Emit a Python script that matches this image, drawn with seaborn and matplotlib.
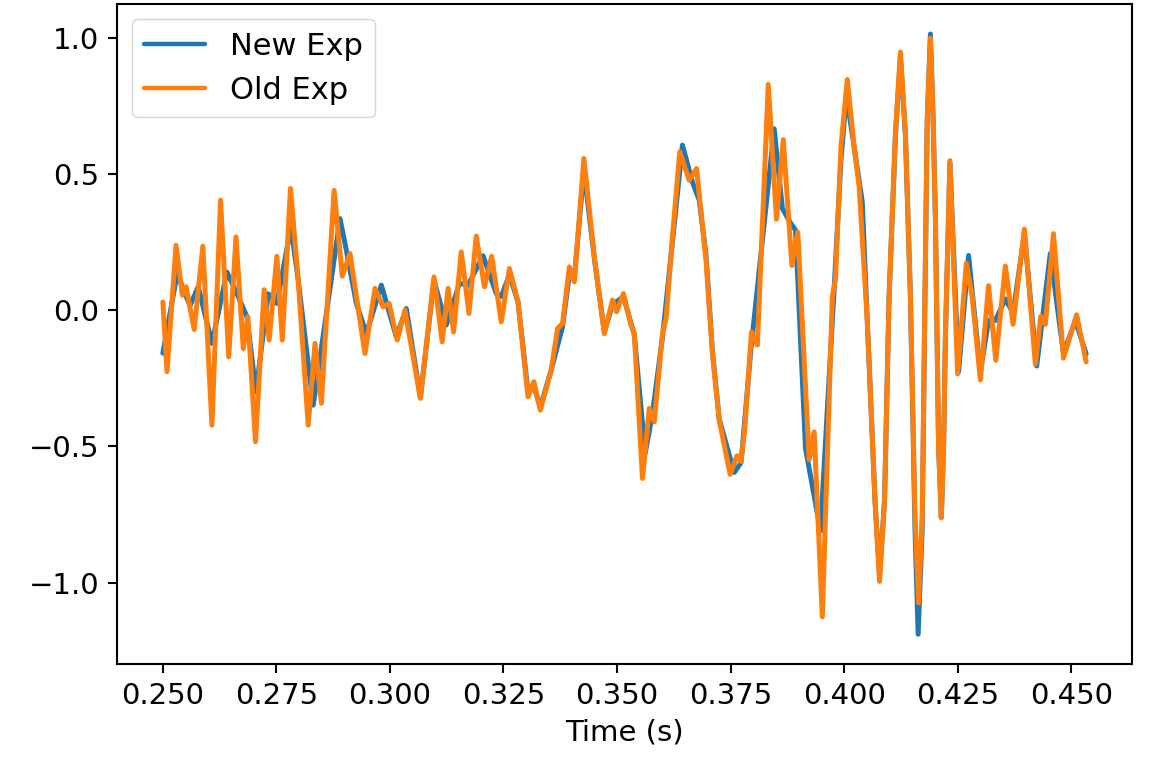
import numpy as np
import pandas as pd
import matplotlib
matplotlib.use("Agg")
import matplotlib.pyplot as plt
import seaborn as sns

# ---- data ----
old_t = [0.2500, 0.2509, 0.2529, 0.2543, 0.2551, 0.2569, 0.2588, 0.2608, 0.2627, 0.2645,
         0.2661, 0.2677, 0.2687, 0.2704, 0.2723, 0.2734, 0.2751, 0.2763, 0.2781, 0.2798,
         0.2820, 0.2835, 0.2849, 0.2877, 0.2895, 0.2912, 0.2945, 0.2967, 0.2985, 0.2998,
         0.3016, 0.3033, 0.3067, 0.3097, 0.3115, 0.3128, 0.3140, 0.3157, 0.3174, 0.3190,
         0.3208, 0.3224, 0.3245, 0.3263, 0.3282, 0.3304, 0.3317, 0.3331, 0.3355, 0.3369,
         0.3380, 0.3395, 0.3406, 0.3427, 0.3450, 0.3472, 0.3490, 0.3499, 0.3514, 0.3531,
         0.3538, 0.3556, 0.3571, 0.3582, 0.3600, 0.3608, 0.3622, 0.3638, 0.3659, 0.3675,
         0.3696, 0.3710, 0.3725, 0.3749, 0.3764, 0.3773, 0.3781, 0.3796, 0.3809, 0.3833,
         0.3851, 0.3866, 0.3885, 0.3898, 0.3923, 0.3934, 0.3952, 0.3974, 0.3981, 0.3993,
         0.4007, 0.4022, 0.4033, 0.4051, 0.4068, 0.4078, 0.4089, 0.4099, 0.4113, 0.4124,
         0.4135, 0.4146, 0.4156, 0.4164, 0.4172, 0.4178, 0.4183, 0.4190, 0.4196, 0.4201,
         0.4208, 0.4214, 0.4219, 0.4223, 0.4233, 0.4250, 0.4269, 0.4282, 0.4300, 0.4318,
         0.4334, 0.4355, 0.4372, 0.4397, 0.4421, 0.4433, 0.4443, 0.4461, 0.4483, 0.4512,
         0.4533]
old_v = [0.030, -0.226, 0.238, 0.055, 0.086, -0.071, 0.235, -0.422, 0.404, -0.171,
         0.269, -0.141, -0.024, -0.483, 0.075, -0.110, 0.198, -0.110, 0.447, 0.110,
         -0.422, -0.122, -0.342, 0.440, 0.125, 0.208, -0.159, 0.080, 0.012, 0.025,
         -0.110, 0.000, -0.324, 0.122, -0.116, 0.080, -0.080, 0.214, -0.012, 0.272,
         0.086, 0.198, -0.043, 0.153, 0.030, -0.318, -0.263, -0.367, -0.220, -0.067,
         -0.049, 0.159, 0.104, 0.557, 0.196, -0.086, 0.037, -0.006, 0.061, -0.055,
         -0.086, -0.618, -0.361, -0.410, -0.086, -0.031, 0.269, 0.581, 0.477, 0.520,
         0.183, -0.159, -0.404, -0.603, -0.535, -0.556, -0.440, -0.080, -0.128, 0.829,
         0.334, 0.626, 0.164, 0.286, -0.549, -0.447, -1.126, 0.048, 0.116, 0.600,
         0.847, 0.600, 0.455, -0.038, -0.700, -0.996, -0.700, 0.049, 0.650, 0.948,
         0.650, 0.049, -0.750, -1.075, -0.750, 0.049, 0.700, 0.999, 0.700, 0.339,
         -0.500, -0.763, -0.500, -0.096, 0.549, -0.234, 0.172, 0.049, -0.256, 0.090,
         -0.184, 0.162, -0.052, 0.298, -0.198, -0.023, -0.052, 0.281, -0.176, -0.017,
         -0.190]

new_t = [0.2500, 0.2532, 0.2545, 0.2560, 0.2578, 0.2608, 0.2641, 0.2663, 0.2685, 0.2705,
         0.2732, 0.2751, 0.2782, 0.2798, 0.2831, 0.2890, 0.2904, 0.2926, 0.2948, 0.2981,
         0.3014, 0.3036, 0.3067, 0.3097, 0.3124, 0.3153, 0.3172, 0.3205, 0.3234, 0.3245,
         0.3263, 0.3282, 0.3304, 0.3317, 0.3331, 0.3355, 0.3380, 0.3395, 0.3406, 0.3427,
         0.3450, 0.3472, 0.3490, 0.3514, 0.3538, 0.3562, 0.3578, 0.3600, 0.3622, 0.3644,
         0.3666, 0.3681, 0.3696, 0.3710, 0.3725, 0.3758, 0.3773, 0.3795, 0.3846, 0.3864,
         0.3882, 0.3893, 0.3915, 0.3948, 0.3978, 0.3993, 0.4005, 0.4022, 0.4040, 0.4051,
         0.4068, 0.4078, 0.4089, 0.4099, 0.4113, 0.4124, 0.4135, 0.4146, 0.4156, 0.4163,
         0.4172, 0.4178, 0.4183, 0.4190, 0.4196, 0.4201, 0.4208, 0.4214, 0.4219, 0.4223,
         0.4233, 0.4252, 0.4274, 0.4300, 0.4318, 0.4333, 0.4355, 0.4372, 0.4397, 0.4424,
         0.4454, 0.4483, 0.4509, 0.4533]
new_v = [-0.158, 0.140, 0.073, 0.018, 0.086, -0.122, 0.140, 0.061, -0.024, -0.300,
         0.060, 0.025, 0.306, 0.110, -0.349, 0.336, 0.220, 0.025, -0.086, 0.092,
         -0.098, 0.006, -0.320, 0.110, -0.055, 0.098, 0.092, 0.200, 0.061, 0.050,
         0.130, 0.030, -0.300, -0.280, -0.356, -0.220, -0.060, 0.130, 0.120, 0.514,
         0.190, -0.080, 0.020, 0.050, -0.090, -0.526, -0.379, -0.100, 0.250, 0.606,
         0.470, 0.404, 0.200, -0.150, -0.400, -0.596, -0.560, -0.140, 0.666, 0.374,
         0.320, 0.294, -0.508, -0.810, 0.077, 0.550, 0.789, 0.600, 0.397, -0.040,
         -0.700, -0.970, -0.700, 0.050, 0.640, 0.930, 0.640, 0.050, -0.800, -1.190,
         -0.800, 0.050, 0.700, 1.014, 0.700, 0.340, -0.500, -0.760, -0.500, -0.100,
         0.540, -0.227, 0.201, -0.227, -0.038, -0.038, 0.041, -0.010, 0.280, -0.205,
         0.208, -0.160, -0.038, -0.161]

series_names = ["New Exp", "Old Exp"]
colors = ["#1f77b4", "#ff7f0e"]
x_ticks = [0.250, 0.275, 0.300, 0.325, 0.350, 0.375, 0.400, 0.425, 0.450]
y_ticks = [-1.0, -0.5, 0.0, 0.5, 1.0]

df = pd.concat([
    pd.DataFrame({"t": new_t, "v": new_v, "series": series_names[0]}),
    pd.DataFrame({"t": old_t, "v": old_v, "series": series_names[1]}),
], ignore_index=True)

sns.set_style("ticks")
plt.rcParams.update({
    "font.family": ["DejaVu Sans"],
    "axes.edgecolor": "black",
    "axes.labelcolor": "black",
    "text.color": "black",
    "xtick.color": "black",
    "ytick.color": "black",
    "axes.linewidth": 1.5,
    "lines.solid_joinstyle": "round",
})

fig = plt.figure(figsize=(11.51, 7.57), dpi=100)
ax = fig.add_axes([0.1014, 0.1225, 0.8824, 0.8722])

sns.lineplot(data=df, x="t", y="v", hue="series", hue_order=series_names,
             palette=colors, linewidth=3.6, estimator=None, sort=False, ax=ax)
for ln in ax.get_lines():
    ln.set_solid_joinstyle("round")
    ln.set_solid_capstyle("round")

ax.set_xticks(x_ticks)
ax.set_yticks(y_ticks)
ax.set_xticklabels([f"{v:.3f}" for v in x_ticks])
ax.set_yticklabels([f"{v:.1f}".replace("-", "\u2212") for v in y_ticks])
ax.tick_params(axis="both", labelsize=21, length=6.7, width=1.5, pad=6)
ax.set_xlabel("Time (s)", fontsize=21, labelpad=6)
ax.set_ylabel("")
ax.margins(x=0.05, y=0.05)

leg = ax.legend(loc="upper left", fontsize=22, framealpha=0.8, fancybox=True,
                edgecolor="0.8", title=None)
for line in leg.get_lines():
    line.set_linewidth(3.2)

fig.savefig("out.png", dpi=100)
